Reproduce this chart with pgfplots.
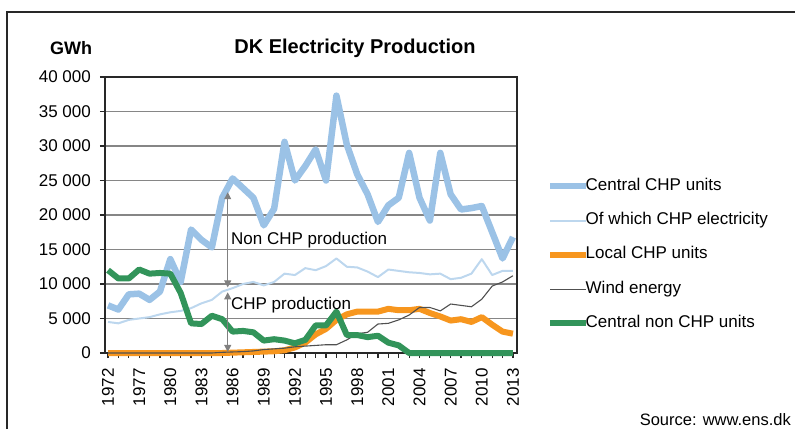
\documentclass[border=0pt]{standalone}
\usepackage{pgfplots}
\pgfplotsset{compat=1.18}
\usepackage{pgfplotstable}
\usepackage{fontspec}
\setmainfont{Liberation Sans}
\usetikzlibrary{arrows.meta}

\definecolor{cchp}{RGB}{155,194,230}
\definecolor{ochp}{RGB}{189,215,238}
\definecolor{lchp}{RGB}{247,150,30}
\definecolor{windc}{RGB}{80,80,80}
\definecolor{ncchp}{RGB}{50,148,90}
\definecolor{gridc}{RGB}{134,134,134}
\definecolor{axc}{RGB}{40,40,40}
\definecolor{arrc}{RGB}{128,128,128}

\pgfplotstableread{
x  year central chp   local wind  nonchp
0  1972 6900    4500  0     0     12000
1  1975 6300    4300  0     0     10800
2  1976 8500    4800  0     0     10800
3  1977 8600    5000  0     0     12100
4  1978 7700    5200  0     0     11500
5  1979 8900    5600  0     0     11600
6  1980 13600   5900  0     0     11500
7  1981 10300   6100  0     0     8700
8  1982 17900   6500  0     0     4300
9  1983 16400   7200  0     0     4200
10 1984 15300   7700  0     0     5400
11 1985 22500   8900  0     100   4900
12 1986 25300   9400  50    150   3100
13 1987 23900   10000 100   200   3200
14 1988 22500   10300 150   300   3000
15 1989 18500   9800  200   500   1800
16 1990 20900   10300 250   600   2000
17 1991 30600   11500 400   700   1800
18 1992 25000   11300 800   900   1400
19 1993 27100   12300 1500  1000  1900
20 1994 29500   12000 2700  1100  4000
21 1995 25000   12600 3500  1200  4000
22 1996 37300   13700 4800  1200  6000
23 1997 30200   12500 5600  1900  2600
24 1998 25900   12400 6000  2800  2600
25 1999 23000   11800 6000  3000  2300
26 2000 19000   11000 6000  4200  2500
27 2001 21400   12100 6400  4300  1500
28 2002 22500   11900 6200  4800  1100
29 2003 29000   11700 6200  5500  0
30 2004 22500   11600 6400  6600  0
31 2005 19200   11400 5800  6600  0
32 2006 29000   11500 5300  6100  0
33 2007 23000   10700 4700  7100  0
34 2008 20800   10900 4900  6900  0
35 2009 21000   11500 4500  6700  0
36 2010 21300   13600 5200  7800  0
37 2011 17500   11300 4100  9700  0
38 2012 13700   11900 3100  10300 0
39 2013 16800   11900 2800  11200 0
}\datatab

\begin{document}
\begin{tikzpicture}
\useasboundingbox (0pt,0pt) rectangle (795pt,429pt);
\draw[line width=1.5pt, axc] (7pt,0pt) -- (7pt,417pt) -- (795pt,417pt);
\node[font=\bfseries\fontsize{20}{24}\selectfont, inner sep=0pt] at (355pt,381pt) {DK Electricity Production};
\node[font=\bfseries\fontsize{18}{22}\selectfont, inner sep=0pt] at (71pt,381pt) {GWh};
\node[font=\fontsize{16.5}{20}\selectfont, inner sep=0pt, anchor=east] at (791pt,9pt) {Source: www.ens.dk};
\begin{axis}[
  at={(105pt,76pt)}, anchor=south west,
  scale only axis, width=412pt, height=276pt,
  xmin=-0.29, xmax=39.39, ymin=0, ymax=40000,
  clip=false, scaled y ticks=false,
  xtick={0,3,...,39},
  xticklabels={1972,1977,1980,1983,1986,1989,1992,1995,1998,2001,2004,2007,2010,2013},
  minor xtick={1,2,4,5,7,8,10,11,13,14,16,17,19,20,22,23,25,26,28,29,31,32,34,35,37,38},
  ytick={0,5000,...,40000},
  yticklabels={0,5 000,10 000,15 000,20 000,25 000,30 000,35 000,40 000},
  ymajorgrids, major grid style={gridc, line width=1.2pt},
  tick align=outside, tick pos=left,
  major tick length=5pt, minor tick length=5pt,
  tick style={axc, line width=1.2pt},
  axis line style={axc, line width=1.5pt},
  ticklabel style={font=\fontsize{17}{20}\selectfont},
  xticklabel style={rotate=90, anchor=east, inner sep=0pt, xshift=-10pt},
  yticklabel style={anchor=east, inner sep=0pt, xshift=-9pt},
  legend style={at={(axis description cs:1.0728,0.634)}, anchor=north west,
    draw=none, fill=none, font=\fontsize{17}{20}\selectfont,
    row sep=18.3pt, column sep=-4pt, inner sep=0pt,
    nodes={inner sep=0pt, text height=12pt, text depth=4pt}},
  legend cell align=left,
  legend image code/.code={\draw[#1, line cap=butt] (0pt,0pt) -- (36pt,0pt);},
]
\addplot[cchp, line width=6.5pt, line join=round] table[x=x,y=central]{\datatab};
\addlegendentry{Central CHP units}
\addplot[ochp, line width=2pt, line join=round] table[x=x,y=chp]{\datatab};
\addlegendentry{Of which CHP electricity}
\addplot[lchp, line width=6pt, line join=round] table[x=x,y=local]{\datatab};
\addlegendentry{Local CHP units}
\addplot[windc, line width=1.1pt, line join=round] table[x=x,y=wind]{\datatab};
\addlegendentry{Wind energy}
\addplot[ncchp, line width=6pt, line join=round] table[x=x,y=nonchp]{\datatab};
\addlegendentry{Central non CHP units}
\draw[arrc, line width=1pt, {Triangle[width=7pt,length=7pt]}-{Triangle[width=7pt,length=7pt]}] (axis cs:11.53,23300) -- (axis cs:11.53,9500);
\draw[arrc, line width=1pt, {Triangle[width=7pt,length=7pt]}-{Triangle[width=7pt,length=7pt]}] (axis cs:11.53,8800) -- (axis cs:11.53,150);
\node[anchor=base west, inner sep=0pt, font=\fontsize{17}{20}\selectfont] at (axis cs:11.84,15660) {Non CHP production};
\node[anchor=base west, inner sep=0pt, font=\fontsize{17}{20}\selectfont] at (axis cs:11.84,6235) {CHP production};
\end{axis}
\end{tikzpicture}
\end{document}
